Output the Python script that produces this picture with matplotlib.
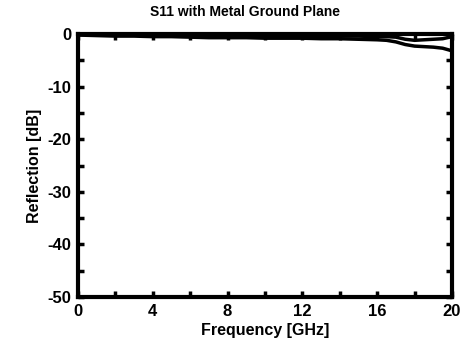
import numpy as np
import matplotlib.pyplot as plt

plt.rcParams['font.family'] = ['Liberation Sans', 'DejaVu Sans']
plt.rcParams['axes.unicode_minus'] = False

# frequency points [GHz] and two traces [dB]
freq = [0, 1, 2, 3, 4, 5, 6, 7, 8, 9, 10, 11, 12, 13, 14, 15, 16, 16.5, 17, 17.5, 18, 18.5, 19, 19.5, 20]
s11_a = [0, 0, -0.1, -0.1, -0.1, -0.1, -0.2, -0.2, -0.2, -0.2, -0.3, -0.3, -0.3, -0.3, -0.4, -0.4, -0.5,
         -0.5, -0.6, -1.0, -1.2, -1.1, -1.0, -0.9, -0.5]
s11_b = [-0.2, -0.3, -0.4, -0.4, -0.5, -0.5, -0.6, -0.7, -0.7, -0.7, -0.8, -0.8, -0.8, -0.9, -0.9, -1.0, -1.1,
         -1.2, -1.5, -2.0, -2.3, -2.4, -2.5, -2.7, -3.2]

fig = plt.figure(figsize=(4.64, 3.5), dpi=100)
ax = fig.add_axes([78 / 464, 53 / 350, 374 / 464, 263 / 350])

ax.plot(freq, s11_a, color="black", linewidth=2.5)
ax.plot(freq, s11_b, color="black", linewidth=2.5)

ax.set_xlim(0, 20)
ax.set_ylim(-50, 0)
ax.set_xticks(np.arange(0, 21, 4))
ax.set_xticks(np.arange(0, 21, 2), minor=True)
ax.set_yticks(np.arange(-50, 1, 10))
ax.set_yticks(np.arange(-50, 1, 5), minor=True)
ax.tick_params(which="both", direction="in", top=True, right=True, width=2.5, length=4,
               labelsize=12, pad=5)
for lab in ax.get_xticklabels() + ax.get_yticklabels():
    lab.set_fontweight("bold")
for sp in ax.spines.values():
    sp.set_linewidth(3)

fig.text(245 / 464, 1 - 12 / 350, "S11 with Metal Ground Plane", fontsize=10, fontweight="bold",
         ha="center", va="center")
ax.set_xlabel("Frequency [GHz]", fontsize=11.5, fontweight="bold", labelpad=3)
ax.set_ylabel("Reflection [dB]", fontsize=11.5, fontweight="bold", labelpad=4)

fig.savefig("out.png", dpi=100)
